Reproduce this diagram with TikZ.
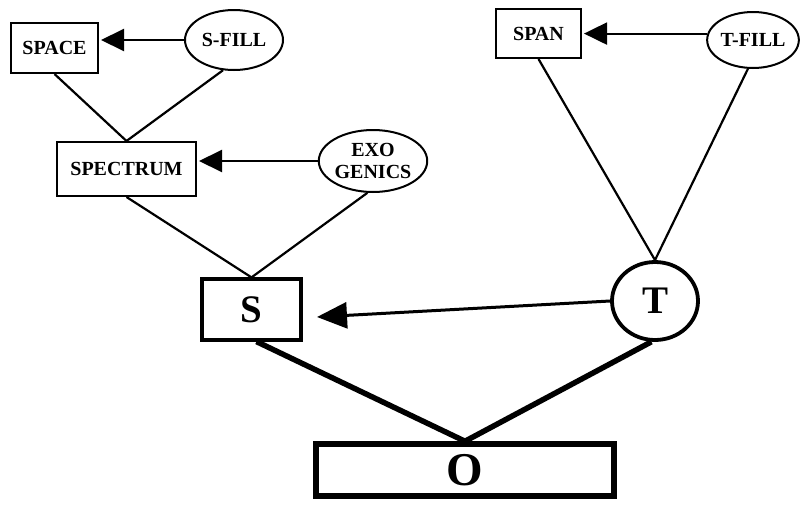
\documentclass[tikz,border=0pt]{standalone}
\usepackage{fontspec}
\setmainfont{Liberation Serif}
\usetikzlibrary{arrows.meta,shapes.geometric}
\begin{document}
\begin{tikzpicture}[x=1pt,y=-1pt,
  lbl/.style={font=\bfseries\fontsize{20}{22}\selectfont},
  box/.style={draw,line width=2pt,rectangle,inner sep=0pt,fill=white,lbl},
  oval/.style={draw,line width=2pt,ellipse,inner sep=0pt,fill=white,lbl},
  link/.style={line width=2.2pt},
  heavylink/.style={line width=5.5pt},
  arr/.style={line width=2pt,-{Triangle[length=23pt,width=22pt]}},
  bigarr/.style={line width=3pt,-{Triangle[length=30pt,width=26pt]}}
]
\useasboundingbox (0,0) rectangle (803,509);

% nodes
\node[box,minimum width=87pt,minimum height=50pt] (space) at (54.5,48) {SPACE};
\node[oval,minimum width=98pt,minimum height=60pt] (sfill) at (234,40) {S-FILL};
\node[box,minimum width=139pt,minimum height=54pt] (spectrum) at (126.5,169) {SPECTRUM};
\node[oval,minimum width=105pt,minimum height=62pt,align=center,font=\bfseries\fontsize{20}{22}\selectfont] (exo) at (373,161) {EXO\\GENICS};
\node[box,line width=3.2pt,minimum width=99pt,minimum height=61pt,font=\bfseries\fontsize{39}{41}\selectfont] (s) at (251.5,309.5) {S};
\node[oval,line width=3.8pt,minimum width=86pt,minimum height=78pt,font=\bfseries\fontsize{39}{41}\selectfont] (t) at (655,301) {T};
\node[box,line width=5.5pt,minimum width=298pt,minimum height=52pt,font=\bfseries\fontsize{47}{49}\selectfont] (o) at (465,470) {O};
\node[box,minimum width=85pt,minimum height=49pt] (span) at (538.5,33.5) {SPAN};
\node[oval,minimum width=90pt,minimum height=56pt] (tfill) at (753,40) {T-FILL};
\coordinate (stip) at (317,317);

% connectors
\draw[link] (space.south) -- (spectrum.north);
\draw[link] (sfill.250) -- (spectrum.north);
\draw[link] (spectrum.south) -- (s.north);
\draw[link] (exo.260) -- (s.north);
\draw[link] (span.south) -- (t.north);
\draw[link] (tfill.260) -- (t.north);
\draw[heavylink] ([xshift=5pt]s.south) -- (o.north);
\draw[heavylink] (t.265) -- (o.north);

% arrows
\draw[arr] (sfill.west) -- ([xshift=2pt]space.east |- sfill.west);
\draw[arr] (exo.west) -- ([xshift=2pt]spectrum.east |- exo.west);
\draw[arr] (tfill.172) -- ([xshift=2pt]span.east |- tfill.172);
\draw[bigarr] (t.west) -- (stip);
\end{tikzpicture}
\end{document}
